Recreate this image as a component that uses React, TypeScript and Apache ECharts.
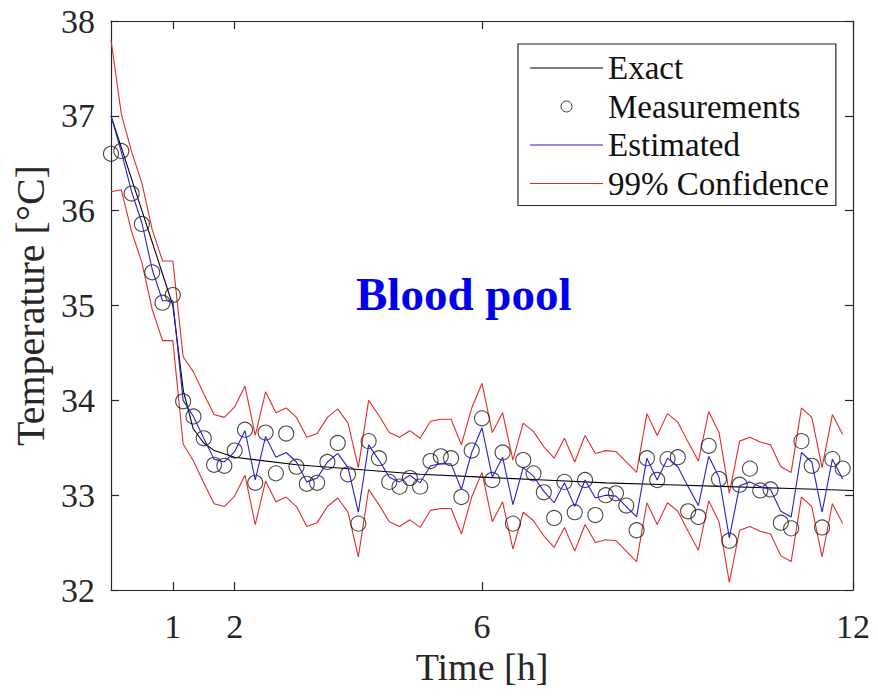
import React, { useEffect, useRef } from 'react';
import * as echarts from 'echarts';

// sampling times (minutes)
const timeMin = [
  0, 10, 20, 30, 40, 50, 60, 70, 80, 90, 100, 110,
  120, 130, 140, 150, 160, 170, 180, 190, 200, 210, 220, 230,
  240, 250, 260, 270, 280, 290, 300, 310, 320, 330, 340, 350,
  360, 370, 380, 390, 400, 410, 420, 430, 440, 450, 460, 470,
  480, 490, 500, 510, 520, 530, 540, 550, 560, 570, 580, 590,
  600, 610, 620, 630, 640, 650, 660, 670, 680, 690, 700, 710,
];

const measured = [
  36.60, 36.63, 36.18, 35.86, 35.35, 35.03, 35.11, 33.99, 33.83, 33.60, 33.32, 33.31,
  33.47, 33.69, 33.13, 33.66, 33.23, 33.65, 33.30, 33.12, 33.13, 33.35, 33.55, 33.22,
  32.70, 33.57, 33.39, 33.14, 33.09, 33.18, 33.09, 33.36, 33.41, 33.39, 32.98, 33.47,
  33.81, 33.16, 33.45, 32.70, 33.37, 33.23, 33.03, 32.76, 33.14, 32.82, 33.16, 32.79,
  33.00, 33.02, 32.89, 32.63, 33.39, 33.16, 33.38, 33.40, 32.83, 32.77, 33.52, 33.17,
  32.52, 33.11, 33.28, 33.05, 33.06, 32.71, 32.65, 33.57, 33.31, 32.66, 33.38, 33.28,
];

const estimated = [
  37.00, 36.62, 36.20, 35.87, 35.38, 35.05, 35.05, 34.00, 33.83, 33.60, 33.38, 33.35,
  33.46, 33.68, 33.16, 33.62, 33.40, 33.45, 33.35, 33.14, 33.18, 33.35, 33.44, 33.29,
  32.82, 33.53, 33.37, 33.19, 33.14, 33.21, 33.13, 33.31, 33.33, 33.33, 33.06, 33.45,
  33.71, 33.19, 33.40, 32.90, 33.29, 33.20, 33.04, 32.92, 33.13, 32.88, 33.16, 32.97,
  33.00, 32.99, 32.88, 32.77, 33.39, 33.16, 33.39, 33.30, 33.09, 32.89, 33.41, 33.19,
  32.55, 33.10, 33.14, 33.09, 33.06, 32.83, 32.77, 33.45, 33.35, 32.82, 33.38, 33.17,
];

const upper = [
  37.80, 37.02, 36.62, 36.29, 35.80, 35.47, 35.47, 34.46, 34.30, 34.07, 33.85, 33.82,
  33.93, 34.15, 33.63, 34.09, 33.87, 33.92, 33.82, 33.61, 33.65, 33.82, 33.91, 33.76,
  33.29, 34.00, 33.84, 33.66, 33.61, 33.68, 33.60, 33.78, 33.80, 33.80, 33.53, 33.92,
  34.18, 33.66, 33.87, 33.37, 33.76, 33.67, 33.51, 33.39, 33.60, 33.35, 33.63, 33.44,
  33.47, 33.46, 33.35, 33.24, 33.86, 33.63, 33.86, 33.77, 33.56, 33.36, 33.88, 33.66,
  33.02, 33.57, 33.61, 33.56, 33.53, 33.30, 33.24, 33.92, 33.82, 33.29, 33.85, 33.64,
];

const lower = [
  36.20, 36.22, 35.78, 35.45, 34.96, 34.63, 34.63, 33.54, 33.36, 33.13, 32.91, 32.88,
  32.99, 33.21, 32.69, 33.15, 32.93, 32.98, 32.88, 32.67, 32.71, 32.88, 32.97, 32.82,
  32.35, 33.06, 32.90, 32.72, 32.67, 32.74, 32.66, 32.84, 32.86, 32.86, 32.59, 32.98,
  33.24, 32.72, 32.93, 32.43, 32.82, 32.73, 32.57, 32.45, 32.66, 32.41, 32.69, 32.50,
  32.53, 32.52, 32.41, 32.30, 32.92, 32.69, 32.92, 32.83, 32.62, 32.42, 32.94, 32.72,
  32.08, 32.63, 32.67, 32.62, 32.59, 32.36, 32.30, 32.98, 32.88, 32.35, 32.91, 32.70,
];

const exactTime = [0, 0.5, 1, 1.17, 1.33, 1.5, 1.67, 2, 3, 4, 5, 6, 7, 8, 9, 10, 11, 12];
const exactTemp = [37.0, 36.0, 35.0, 34.1, 33.7, 33.55, 33.47, 33.4, 33.32, 33.27, 33.22, 33.19, 33.16, 33.13, 33.11, 33.09, 33.07, 33.05];

const xTickValues = [1, 2, 6, 12];

const FONT = '"Liberation Serif", "Times New Roman", serif';
const AXIS_COLOR = '#262626';
const BLUE = '#2222cc';
const RED = '#e52a2a';
const LINE_ICON = 'path://M0,0H73V1.2H0Z';

export default function App() {
  const ref = useRef<HTMLDivElement>(null);

  useEffect(() => {
    if (!ref.current) return;
    const chart = echarts.init(ref.current, undefined, { renderer: 'svg' });

    const hours = timeMin.map((m) => m / 60);
    const pairs = (vals: number[]) => vals.map((v, i) => [hours[i], v]);

    const baseX = {
      type: 'value' as const,
      min: 0,
      max: 12,
      splitLine: { show: false },
      axisLine: { show: true, onZero: false, lineStyle: { color: AXIS_COLOR, width: 1.2 } },
      axisTick: { show: true, inside: true, length: 8, customValues: xTickValues, lineStyle: { color: AXIS_COLOR, width: 1.2 } },
    };
    const baseY = {
      type: 'value' as const,
      min: 32,
      max: 38,
      interval: 1,
      splitLine: { show: false },
      axisLine: { show: true, onZero: false, lineStyle: { color: AXIS_COLOR, width: 1.2 } },
      axisTick: { show: true, inside: true, length: 8, lineStyle: { color: AXIS_COLOR, width: 1.2 } },
    };

    chart.setOption({
      animation: false,
      backgroundColor: '#ffffff',
      grid: { left: 111, right: 25, top: 21, bottom: 107, containLabel: false },
      xAxis: [
        {
          ...baseX,
          position: 'bottom',
          axisLabel: {
            show: true,
            customValues: xTickValues,
            fontFamily: FONT,
            fontSize: 34,
            color: AXIS_COLOR,
            margin: 19,
          },
          name: 'Time [h]',
          nameLocation: 'middle',
          nameGap: 56,
          nameTextStyle: { fontFamily: FONT, fontSize: 38, color: AXIS_COLOR },
        },
        {
          ...baseX,
          position: 'top',
          axisLabel: { show: false },
        },
      ],
      yAxis: [
        {
          ...baseY,
          position: 'left',
          axisLabel: {
            show: true,
            fontFamily: FONT,
            fontSize: 34,
            color: AXIS_COLOR,
            margin: 16,
          },
          name: 'Temperature [°C]',
          nameLocation: 'middle',
          nameGap: 56,
          nameRotate: 90,
          nameTextStyle: { fontFamily: FONT, fontSize: 40, color: AXIS_COLOR },
        },
        {
          ...baseY,
          position: 'right',
          axisLabel: { show: false },
        },
      ],
      legend: {
        show: true,
        orient: 'vertical',
        left: 518,
        top: 44,
        backgroundColor: '#ffffff',
        borderColor: AXIS_COLOR,
        borderWidth: 1.2,
        borderRadius: 0,
        padding: [5, 7, 3, 12],
        itemGap: 0.5,
        itemWidth: 73,
        itemHeight: 11,
        selectedMode: false,
        textStyle: { fontFamily: FONT, fontSize: 33, color: '#111', lineHeight: 38 },
        data: [
          { name: 'Exact', icon: LINE_ICON },
          {
            name: 'Measurements',
            icon: 'circle',
            itemStyle: { color: 'rgba(0,0,0,0)', borderColor: '#111111', borderWidth: 1 },
          },
          { name: 'Estimated', icon: LINE_ICON },
          { name: '99% Confidence', icon: LINE_ICON },
        ],
      },
      graphic: [
        {
          type: 'text',
          left: 356,
          top: 270,
          style: {
            text: 'Blood pool',
            font: `bold 47px ${FONT}`,
            fill: '#0000ee',
          },
          z: 100,
        },
      ],
      series: [
        {
          name: 'Exact',
          type: 'line',
          data: exactTime.map((t, i) => [t, exactTemp[i]]),
          symbol: 'none',
          lineStyle: { color: '#000000', width: 1.1 },
          itemStyle: { color: '#000000' },
          z: 3,
        },
        {
          name: 'Measurements',
          type: 'scatter',
          data: pairs(measured),
          symbol: 'circle',
          symbolSize: 15,
          itemStyle: { color: 'rgba(0,0,0,0)', borderColor: '#1a1a1a', borderWidth: 1.1 },
          z: 4,
        },
        {
          name: 'Estimated',
          type: 'line',
          data: pairs(estimated),
          symbol: 'none',
          lineStyle: { color: BLUE, width: 1.1 },
          itemStyle: { color: BLUE },
          z: 5,
        },
        {
          name: '99% Confidence',
          type: 'line',
          data: pairs(upper),
          symbol: 'none',
          lineStyle: { color: RED, width: 1.1 },
          itemStyle: { color: RED },
          z: 2,
        },
        {
          name: '99% Confidence',
          type: 'line',
          data: pairs(lower),
          symbol: 'none',
          lineStyle: { color: RED, width: 1.1 },
          itemStyle: { color: RED },
          z: 2,
        },
      ],
    });

    return () => chart.dispose();
  }, []);

  return (
    <div
      ref={ref}
      style={{ position: 'fixed', left: 0, top: 0, width: 878, height: 697, background: '#fff' }}
    />
  );
}
